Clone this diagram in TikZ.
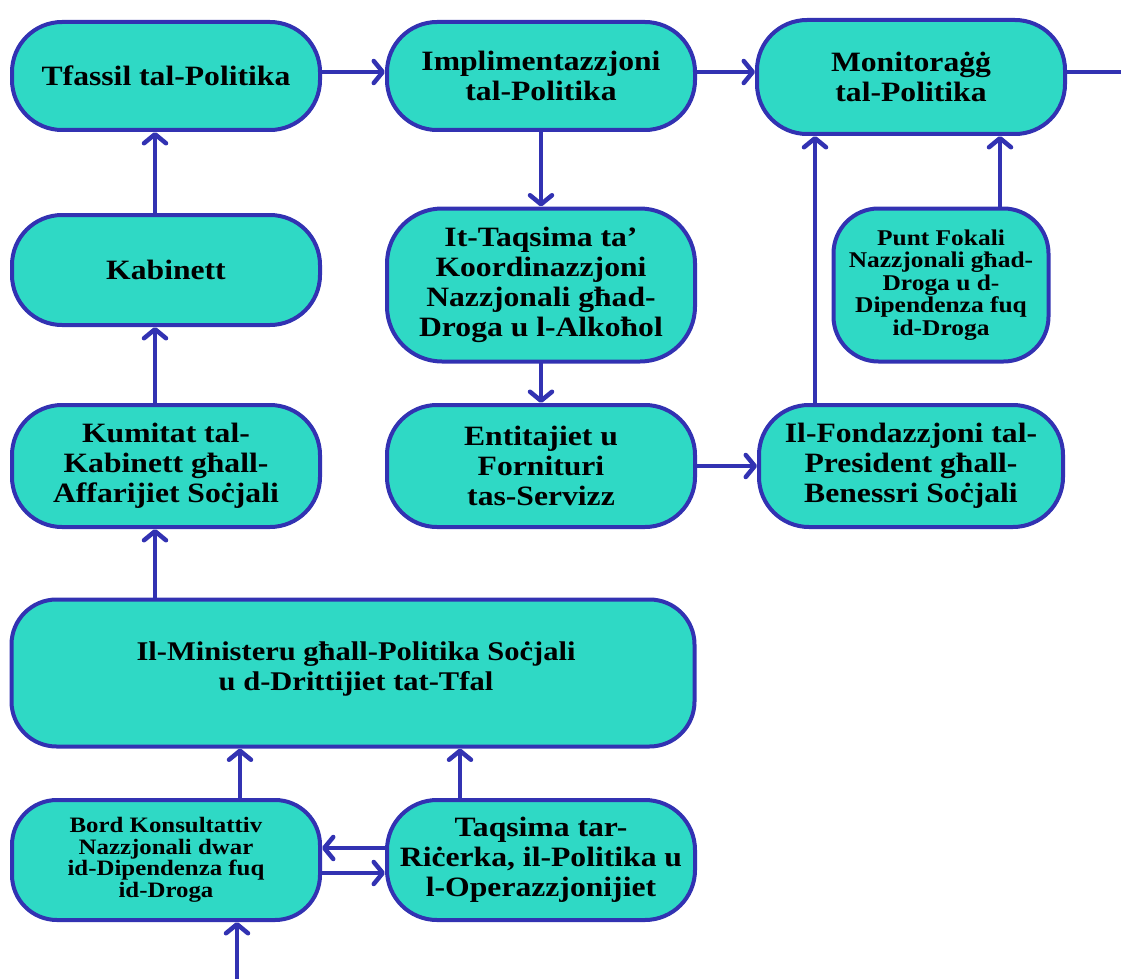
\documentclass[tikz,border=0pt]{standalone}
\usepackage{fontspec}
\setmainfont{Liberation Serif}[FakeStretch=1.13]
\usetikzlibrary{arrows.meta}
\definecolor{boxfill}{RGB}{47,217,197}
\definecolor{linec}{RGB}{50,50,178}
\tikzset{
  box/.style={draw=linec, fill=boxfill, line width=4pt, inner sep=0pt, align=center,
    font=\fontsize{28}{30}\selectfont\bfseries, rounded corners=50pt},
  smallbox/.style={box, font=\fontsize{22.5}{22.5}\selectfont\bfseries, rounded corners=45pt},
  bordbox/.style={box, font=\fontsize{22}{21.5}\selectfont\bfseries, rounded corners=45pt},
  arr/.style={draw=linec, line width=4.5pt, line cap=round,
    -{Straight Barb[length=9pt,width=22pt,line cap=round,line join=round]}}
}
\begin{document}
\begin{tikzpicture}[x=1pt,y=-1pt]
\useasboundingbox (0,0) rectangle (1121,979);
% nodes
\node[box, minimum width=308pt, minimum height=108pt] (tf) at (166,76) {Tfassil tal-Politika};
\node[box, minimum width=308pt, minimum height=108pt] (impl) at (541,76) {Implimentazzjoni\\tal-Politika};
\node[box, minimum width=308pt, minimum height=114pt] (mon) at (911,77) {Monitoraġġ\\tal-Politika};
\node[box, minimum width=308pt, minimum height=110pt] (kab) at (166,270) {Kabinett};
\node[box, minimum width=308pt, minimum height=153pt, rounded corners=55pt] (itt) at (541,285) {It-Taqsima ta’\\Koordinazzjoni\\Nazzjonali għad-\\Droga u l-Alkoħol};
\node[smallbox, minimum width=215pt, minimum height=153pt] (punt) at (941,285) {Punt Fokali\\Nazzjonali għad-\\Droga u d-\\Dipendenza fuq\\id-Droga};
\node[box, minimum width=308pt, minimum height=122pt] (kum) at (166,466) {Kumitat tal-\\Kabinett għall-\\Affarijiet Soċjali};
\node[box, minimum width=308pt, minimum height=122pt] (ent) at (541,466) {Entitajiet u\\Fornituri\\tas-Servizz};
\node[box, minimum width=304pt, minimum height=122pt] (fon) at (911,466) {Il-Fondazzjoni tal-\\President għall-\\Benessri Soċjali};
\node[box, minimum width=683pt, minimum height=147pt, rounded corners=45pt] (min) at (353,673) {};
\node[font=\fontsize{27}{30}\selectfont\bfseries, align=center] (mintxt) at (356,669) {Il-Ministeru għall-Politika Soċjali\\u d-Drittijiet tat-Tfal};
\node[bordbox, minimum width=308pt, minimum height=120pt] (bord) at (166,860) {Bord Konsultattiv\\Nazzjonali dwar\\id-Dipendenza fuq\\id-Droga};
\node[box, minimum width=308pt, minimum height=120pt] (taq) at (541,860) {Taqsima tar-\\Riċerka, il-Politika u\\l-Operazzjonijiet};
% column / row helpers
\coordinate (c1) at (155,0);
\coordinate (c3) at (815,0);
\coordinate (c4) at (1000,0);
\coordinate (c5) at (240,0);
\coordinate (c6) at (460,0);
\coordinate (c7) at (237,0);
\coordinate (r1) at (0,848);
\coordinate (r2) at (0,873);
\coordinate (rt) at (0,72);
\coordinate (e1) at (1123.2,72);
\coordinate (e2) at (1123.2,981.2);
% connectors
\draw[arr] (tf.east |- rt) -- (impl.west |- rt);
\draw[arr] (impl.east |- rt) -- (mon.west |- rt);
\draw[arr] (kab.north -| c1) -- (tf.south -| c1);
\draw[arr] (kum.north -| c1) -- (kab.south -| c1);
\draw[arr] (min.north -| c1) -- (kum.south -| c1);
\draw[arr] (impl.south) -- (itt.north);
\draw[arr] (itt.south) -- (ent.north);
\draw[arr] (ent.east) -- (fon.west);
\draw[arr] (fon.north -| c3) -- (mon.south -| c3);
\draw[arr] (punt.north -| c4) -- (mon.south -| c4);
\draw[arr] (bord.north -| c5) -- (min.south -| c5);
\draw[arr] (taq.north -| c6) -- (min.south -| c6);
\draw[arr] (taq.west |- r1) -- (bord.east |- r1);
\draw[arr] (bord.east |- r2) -- (taq.west |- r2);
\draw[arr, line cap=butt] (mon.east |- rt) -- (e1) -- (e2) -- (e2 -| c7) -- (bord.south -| c7);
\end{tikzpicture}
\end{document}
